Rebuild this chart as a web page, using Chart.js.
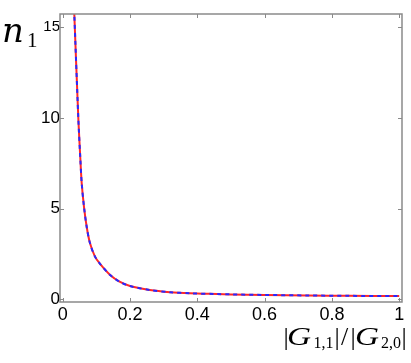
<!DOCTYPE html>
<html>
<head>
<meta charset="utf-8">
<script src="https://cdn.jsdelivr.net/npm/chart.js@4.4.1/dist/chart.umd.min.js"></script>
<style>
html,body{margin:0;padding:0;background:#fff;}
#wrap{width:411px;height:363px;position:relative;}
</style>
</head>
<body>
<div id="wrap"><canvas id="c" width="411" height="363"></canvas></div>
<script>
// Ratio |G_{1,1}|/|G_{2,0}|
const ratio = [0.033, 0.0345, 0.0464, 0.0523, 0.0565, 0.0633, 0.0713, 0.081, 0.096, 0.111, 0.141, 0.169, 0.2, 0.259, 0.319, 0.378, 0.458, 0.5, 0.6, 0.73, 0.85, 1.0];
// n1 (red solid curve)
const n1Red  = [16.45, 15.73, 10.0, 7.8, 6.4, 5.1, 4.0, 3.1, 2.35, 1.95, 1.34, 0.97, 0.73, 0.51, 0.39, 0.33, 0.29, 0.27, 0.24, 0.21, 0.19, 0.18];
// n1 (blue dashed curve)
const n1Blue = [16.45, 15.73, 10.0, 7.8, 6.4, 5.1, 4.0, 3.1, 2.35, 1.95, 1.34, 0.97, 0.73, 0.51, 0.39, 0.33, 0.29, 0.27, 0.24, 0.21, 0.19, 0.18];
const xTicks = [0, 0.2, 0.4, 0.6, 0.8, 1];
const yTicks = [0, 5, 10, 15];
const xTickLabels = ['0', '0.2', '0.4', '0.6', '0.8', '1'];
const yTickLabels = ['0', '5', '10', '15'];

const toPts = ys => ratio.map((x, i) => ({x: x, y: ys[i]}));

const frameColor = '#8a8a8a';

const framePlugin = {
  id: 'frame',
  afterDraw(chart) {
    const ctx = chart.ctx;
    const a = chart.chartArea;
    const xs = chart.scales.x, ys = chart.scales.y;
    ctx.save();
    ctx.strokeStyle = frameColor;
    ctx.lineWidth = 1.5;
    ctx.strokeRect(a.left, a.top, a.right - a.left, a.bottom - a.top);
    ctx.lineWidth = 1;
    ctx.beginPath();
    xTicks.forEach(v => {
      const px = Math.round(xs.getPixelForValue(v)) + 0.5;
      ctx.moveTo(px, a.bottom); ctx.lineTo(px, a.bottom - 4);
      ctx.moveTo(px, a.top); ctx.lineTo(px, a.top + 4);
    });
    yTicks.forEach(v => {
      const py = Math.round(ys.getPixelForValue(v)) + 0.5;
      ctx.moveTo(a.left, py); ctx.lineTo(a.left + 4, py);
      ctx.moveTo(a.right, py); ctx.lineTo(a.right - 4, py);
    });
    ctx.stroke();

    // axis titles
    ctx.fillStyle = '#000';
    ctx.textBaseline = 'alphabetic';
    // y title: n_1
    ctx.font = 'italic 34px "DejaVu Serif"';
    ctx.fillText('n', 2, 42);
    ctx.font = '21px "Liberation Serif"';
    ctx.fillText('1', 27, 47);

    // x title: |G_{1,1}|/|G_{2,0}|
    const base = 345;
    const bar = '26px "Liberation Serif"';
    const gf = 'italic 26px "Liberation Serif"';
    const sf = '16px "Liberation Serif"';
    const parts = [
      ['|', bar, 283.5, 0, 1],
      ['G', gf, 287, 0, 1.28],
      ['1,1', sf, 313.5, 3, 1],
      ['|', bar, 334.5, 0, 1],
      ['/', bar, 341, 0, 1],
      ['|', bar, 350.5, 0, 1],
      ['G', gf, 355, 0, 1.28],
      ['2,0', sf, 381, 3, 1],
      ['|', bar, 401.5, 0, 1]
    ];
    parts.forEach(p => {
      ctx.save();
      ctx.font = p[1];
      ctx.translate(p[2], base + p[3]);
      ctx.scale(p[4], 1);
      ctx.fillText(p[0], 0, 0);
      ctx.restore();
    });
    ctx.restore();
  }
};

new Chart(document.getElementById('c'), {
  type: 'line',
  data: {
    datasets: [
      {
        data: toPts(n1Blue),
        borderColor: 'rgb(40,40,255)',
        borderWidth: 2,
        borderDash: [4, 4],
        pointRadius: 0,
        tension: 0.3,
        fill: false,
        order: 0
      },
      {
        data: toPts(n1Red),
        borderColor: 'rgb(255,40,40)',
        borderWidth: 2,
        pointRadius: 0,
        tension: 0.3,
        fill: false,
        order: 1
      }
    ]
  },
  options: {
    responsive: false,
    animation: false,
    devicePixelRatio: 1,
    layout: {padding: {top: 14, right: 9, left: 0, bottom: 0}},
    plugins: {legend: {display: false}, tooltip: {enabled: false}},
    scales: {
      x: {
        type: 'linear',
        min: -0.008,
        max: 1.0083,
        grid: {display: false, drawTicks: false, tickLength: 0},
        border: {display: false},
        afterBuildTicks: s => { s.ticks = xTicks.map(v => ({value: v})); },
        afterFit: s => { s.height = 61; },
        ticks: {
          padding: 2,
          color: '#000',
          maxRotation: 0,
          font: {family: '"Liberation Sans"', size: 18},
          callback: (v) => { const i = xTicks.indexOf(v); return i >= 0 ? xTickLabels[i] : ''; }
        }
      },
      y: {
        type: 'linear',
        min: -0.15,
        max: 15.73,
        grid: {display: false, drawTicks: false, tickLength: 0},
        border: {display: false},
        afterBuildTicks: s => { s.ticks = yTicks.map(v => ({value: v})); },
        afterFit: s => { s.width = 60; },
        ticks: {
          padding: 0,
          color: '#000',
          font: (ctx) => ({family: '"Liberation Sans"', size: (ctx.tick && ctx.tick.value === 15) ? 15 : 17}),
          callback: (v) => { const i = yTicks.indexOf(v); return i >= 0 ? yTickLabels[i] : ''; }
        }
      }
    }
  },
  plugins: [framePlugin]
});
</script>
</body>
</html>
